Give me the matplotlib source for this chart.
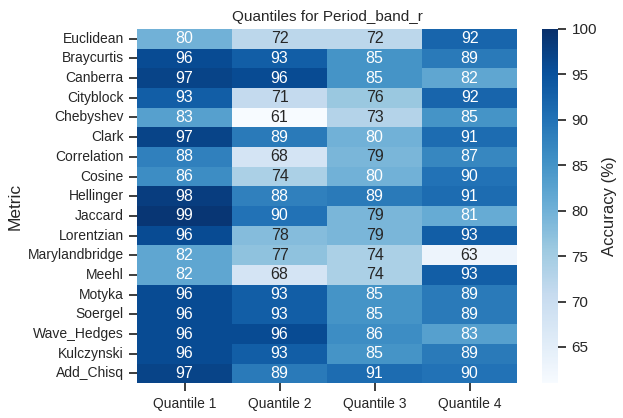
import numpy as np
import pandas as pd
import matplotlib
matplotlib.use("Agg")
import matplotlib.pyplot as plt
import seaborn as sns

metrics = ["Euclidean", "Braycurtis", "Canberra", "Cityblock", "Chebyshev", "Clark",
           "Correlation", "Cosine", "Hellinger", "Jaccard", "Lorentzian", "Marylandbridge",
           "Meehl", "Motyka", "Soergel", "Wave_Hedges", "Kulczynski", "Add_Chisq"]
quantiles = ["Quantile 1", "Quantile 2", "Quantile 3", "Quantile 4"]

q1 = [80, 96, 97, 93, 83, 97, 88, 86, 98, 99, 96, 82, 82, 96, 96, 96, 96, 97]
q2 = [72, 93, 96, 71, 61, 89, 68, 74, 88, 90, 78, 77, 68, 93, 93, 96, 93, 89]
q3 = [72, 85, 85, 76, 73, 80, 79, 80, 89, 79, 79, 74, 74, 85, 85, 86, 85, 91]
q4 = [92, 89, 82, 92, 85, 91, 87, 90, 91, 81, 93, 63, 93, 89, 89, 83, 89, 90]

df = pd.DataFrame({"Quantile 1": q1, "Quantile 2": q2,
                   "Quantile 3": q3, "Quantile 4": q4}, index=metrics)

sns.set_theme(style="ticks")
plt.rcParams['font.family'] = ['Liberation Sans', 'DejaVu Sans']

fig = plt.figure(figsize=(6.23, 4.18), dpi=100)
ax = fig.add_axes([0.22, 0.083, 0.61, 0.848])
cax = fig.add_axes([0.87, 0.083, 0.026, 0.848])

sns.heatmap(df, annot=True, fmt=".0f", cmap="Blues", vmin=61, vmax=100,
            ax=ax, cbar_ax=cax, annot_kws={"size": 11.5},
            cbar_kws={"label": "Accuracy (%)"})
ax.set_title("Quantiles for Period_band_r", fontsize=11)
ax.set_ylabel("Metric", fontsize=12.5)
ax.tick_params(axis="both", labelsize=10)
ax.set_yticklabels(ax.get_yticklabels(), rotation=0)
cax.tick_params(labelsize=11)
cax.set_ylabel("Accuracy (%)", fontsize=12)
for s in cax.spines.values():
    s.set_visible(False)

fig.savefig("out.png", dpi=100)
